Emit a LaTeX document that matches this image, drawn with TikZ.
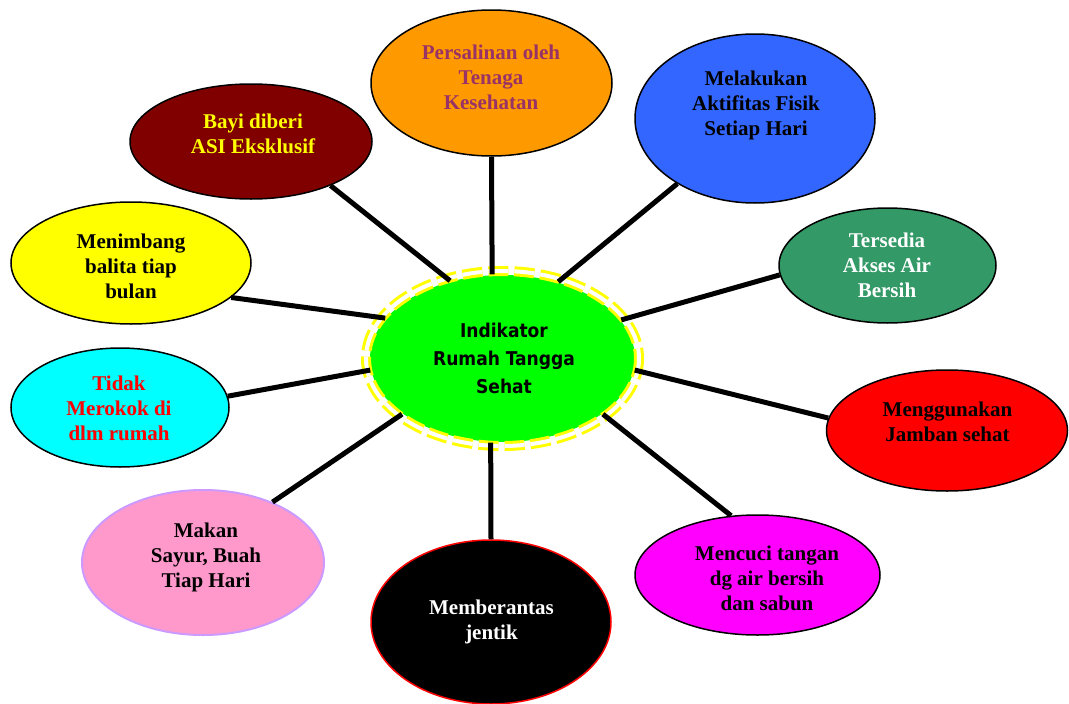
\documentclass[tikz,border=0pt]{standalone}
\usepackage{fontspec}
\setmainfont{Liberation Serif}
\newfontfamily\centerfont{DejaVu Sans Condensed}
\usetikzlibrary{shapes.geometric}
\definecolor{corange}{HTML}{FF9900}
\definecolor{cpurple}{HTML}{993366}
\definecolor{cblue}{HTML}{3366FF}
\definecolor{cmaroon}{HTML}{800000}
\definecolor{cyel}{HTML}{FFFF00}
\definecolor{cteal}{HTML}{339966}
\definecolor{ccyan}{HTML}{00FFFF}
\definecolor{cred}{HTML}{FF0000}
\definecolor{cpink}{HTML}{FF99CC}
\definecolor{clav}{HTML}{CC99FF}
\definecolor{cmag}{HTML}{FF00FF}
\definecolor{cgreen}{HTML}{00FF00}
\begin{document}
\begin{tikzpicture}[x=1pt,y=-1pt,
  oval/.style={ellipse, draw=black, line width=1.5pt, inner sep=0pt},
  lbl/.style={align=center, font=\bfseries\fontsize{21}{25}\selectfont, inner sep=0pt},
  link/.style={line width=5pt, draw=black},
  hub/.style={ellipse, fill=cgreen, inner sep=0pt, outer sep=1pt},
  hubring/.style={draw=cyel, line width=3pt, double=white, double distance=4pt, dash pattern=on 20pt off 6pt}]

\fill[white] (0,0) rectangle (1069,704);
\useasboundingbox (0,0) rectangle (1069,704);

% hub
\node[hub, minimum width=265pt, minimum height=167pt] (c) at (502.5,358.5) {};
\draw[hubring] (c.center) ellipse [x radius=136.5, y radius=87.5];
\node[align=center, inner sep=0pt, font=\centerfont\bfseries\fontsize{19}{28}\selectfont] (ct) at (504,358) {Indikator\\Rumah Tangga\\Sehat};

% outer ovals
\node[oval, fill=corange, minimum width=241pt, minimum height=146pt] (pers) at (491.5,83) {};
\node[lbl, text=cpurple] (tpers) at (491,77) {Persalinan oleh\\Tenaga\\Kesehatan};

\node[oval, fill=cblue, minimum width=240pt, minimum height=169pt] (mel) at (755,118.5) {};
\node[lbl, text=black] (tmel) at (756,105) {Melakukan\\Aktifitas Fisik\\Setiap Hari};

\node[oval, fill=cmaroon, minimum width=242pt, minimum height=115pt] (bayi) at (251,141.5) {};
\node[lbl, text=cyel] (tbayi) at (253,133.5) {Bayi diberi\\ASI Eksklusif};

\node[oval, fill=cyel, minimum width=240pt, minimum height=122pt] (timb) at (131,263) {};
\node[lbl, text=black] (ttimb) at (131,266) {Menimbang\\balita tiap\\bulan};

\node[oval, fill=cteal, minimum width=217pt, minimum height=115pt] (sedia) at (887.5,265.5) {};
\node[lbl, text=white] (tsedia) at (887,265) {Tersedia\\Akses Air\\Bersih};

\node[oval, fill=ccyan, minimum width=218pt, minimum height=119pt] (rokok) at (120,407.5) {};
\node[lbl, text=cred] (trokok) at (119,408) {Tidak\\Merokok di\\dlm rumah};

\node[oval, fill=cred, minimum width=241pt, minimum height=121pt] (jamban) at (947,430.5) {};
\node[lbl, text=black] (tjamban) at (947.5,421.5) {Menggunakan\\Jamban sehat};

\node[oval, draw=clav, fill=cpink, line width=2pt, minimum width=242pt, minimum height=145pt] (makan) at (203,562.5) {};
\node[lbl, text=black] (tmakan) at (206,557) {Makan\\Sayur, Buah\\Tiap Hari};

\node[oval, draw=cred, fill=black, minimum width=240pt, minimum height=164pt] (jentik) at (491,622) {};
\node[lbl, text=white] (tjentik) at (491.5,621.5) {Memberantas\\jentik};

\node[oval, fill=cmag, minimum width=245pt, minimum height=120pt] (cuci) at (757.5,575) {};
\node[lbl, text=black] (tcuci) at (767,578) {Mencuci tangan\\dg air bersih\\dan sabun};

% connectors
\draw[link] (bayi.-29.6) -- (c.124.4);
\draw[link] (pers.-90) -- (c.97.8);
\draw[link] (mel.-140.4) -- (c.54.7);
\draw[link] (timb.-19.65) -- (c.161.4);
\draw[link] (sedia.-175.8) -- (c.18.4);
\draw[link] (rokok.6.8) -- (c.185);
\draw[link] (jamban.174) -- (c.-5.7);
\draw[link] (makan.41.9) -- (c.209.8);
\draw[link] (jentik.90) -- (c.262.25);
\draw[link] (cuci.114.6) -- (c.-29.3);
\end{tikzpicture}
\end{document}
